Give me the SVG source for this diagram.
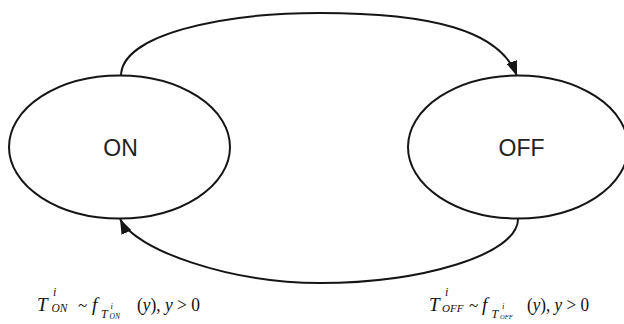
<svg xmlns="http://www.w3.org/2000/svg" width="624" height="324" viewBox="0 0 624 324">
<style>
.st{fill:#fff;stroke:#151515;stroke-width:2}
.ln{fill:none;stroke:#151515;stroke-width:2}
.lbl{font-family:"Liberation Sans",Arial,sans-serif;font-size:23px;fill:#222;text-anchor:middle}
.m{font-family:"Liberation Serif","Times New Roman",serif;fill:#111}
.it{font-style:italic}
</style>
<defs>
<marker id="ah" markerUnits="userSpaceOnUse" viewBox="0 0 15 11" refX="15" refY="5.5" markerWidth="15" markerHeight="11" orient="auto">
<path d="M0,0 L15,5.5 L0,11 z" fill="#151515"/>
</marker>
</defs>
<g id="edges">
<path class="ln" d="M121,76 C121,35 220,13 320,13 C430,13 500,30 517,76" marker-end="url(#ah)"/>
<path class="ln" d="M518,219 C518,255 420,283 320,283 C230,283 135,250 120,219" marker-end="url(#ah)"/>
</g>
<g id="node-on">
<ellipse class="st" cx="119.5" cy="147" rx="110.5" ry="71.5"/>
<text class="lbl" x="120.5" y="156">ON</text>
</g>
<g id="node-off">
<ellipse class="st" cx="518" cy="147" rx="110" ry="71.5"/>
<text class="lbl" x="521.5" y="156">OFF</text>
</g>
<g id="formula-on" class="m">
<text class="it" x="37" y="311" font-size="19">T</text>
<text class="it" x="53" y="296" font-size="12">i</text>
<text class="it" x="51.5" y="312" font-size="11.5">ON</text>
<text x="78" y="311" font-size="17">~</text>
<text class="it" x="92" y="311" font-size="19">f</text>
<text class="it" x="101" y="318" font-size="12">T</text>
<text class="it" x="110.5" y="309" font-size="8.5">i</text>
<text class="it" x="109.5" y="319" font-size="7.5">ON</text>
<text x="137" y="311" font-size="19" textLength="63" lengthAdjust="spacingAndGlyphs">(<tspan class="it">y</tspan>), <tspan class="it">y</tspan> &gt; 0</text>
</g>
<g id="formula-off" class="m">
<text class="it" x="429" y="311" font-size="19">T</text>
<text class="it" x="445" y="296" font-size="12">i</text>
<text class="it" x="442" y="312" font-size="11">OFF</text>
<text x="469" y="311" font-size="17">~</text>
<text class="it" x="482" y="311" font-size="19">f</text>
<text class="it" x="491.5" y="318" font-size="12">T</text>
<text class="it" x="502" y="309" font-size="8.5">i</text>
<text class="it" x="500" y="319" font-size="6.5">OFF</text>
<text x="527" y="311" font-size="19" textLength="62" lengthAdjust="spacingAndGlyphs">(<tspan class="it">y</tspan>), <tspan class="it">y</tspan> &gt; 0</text>
</g>
</svg>
